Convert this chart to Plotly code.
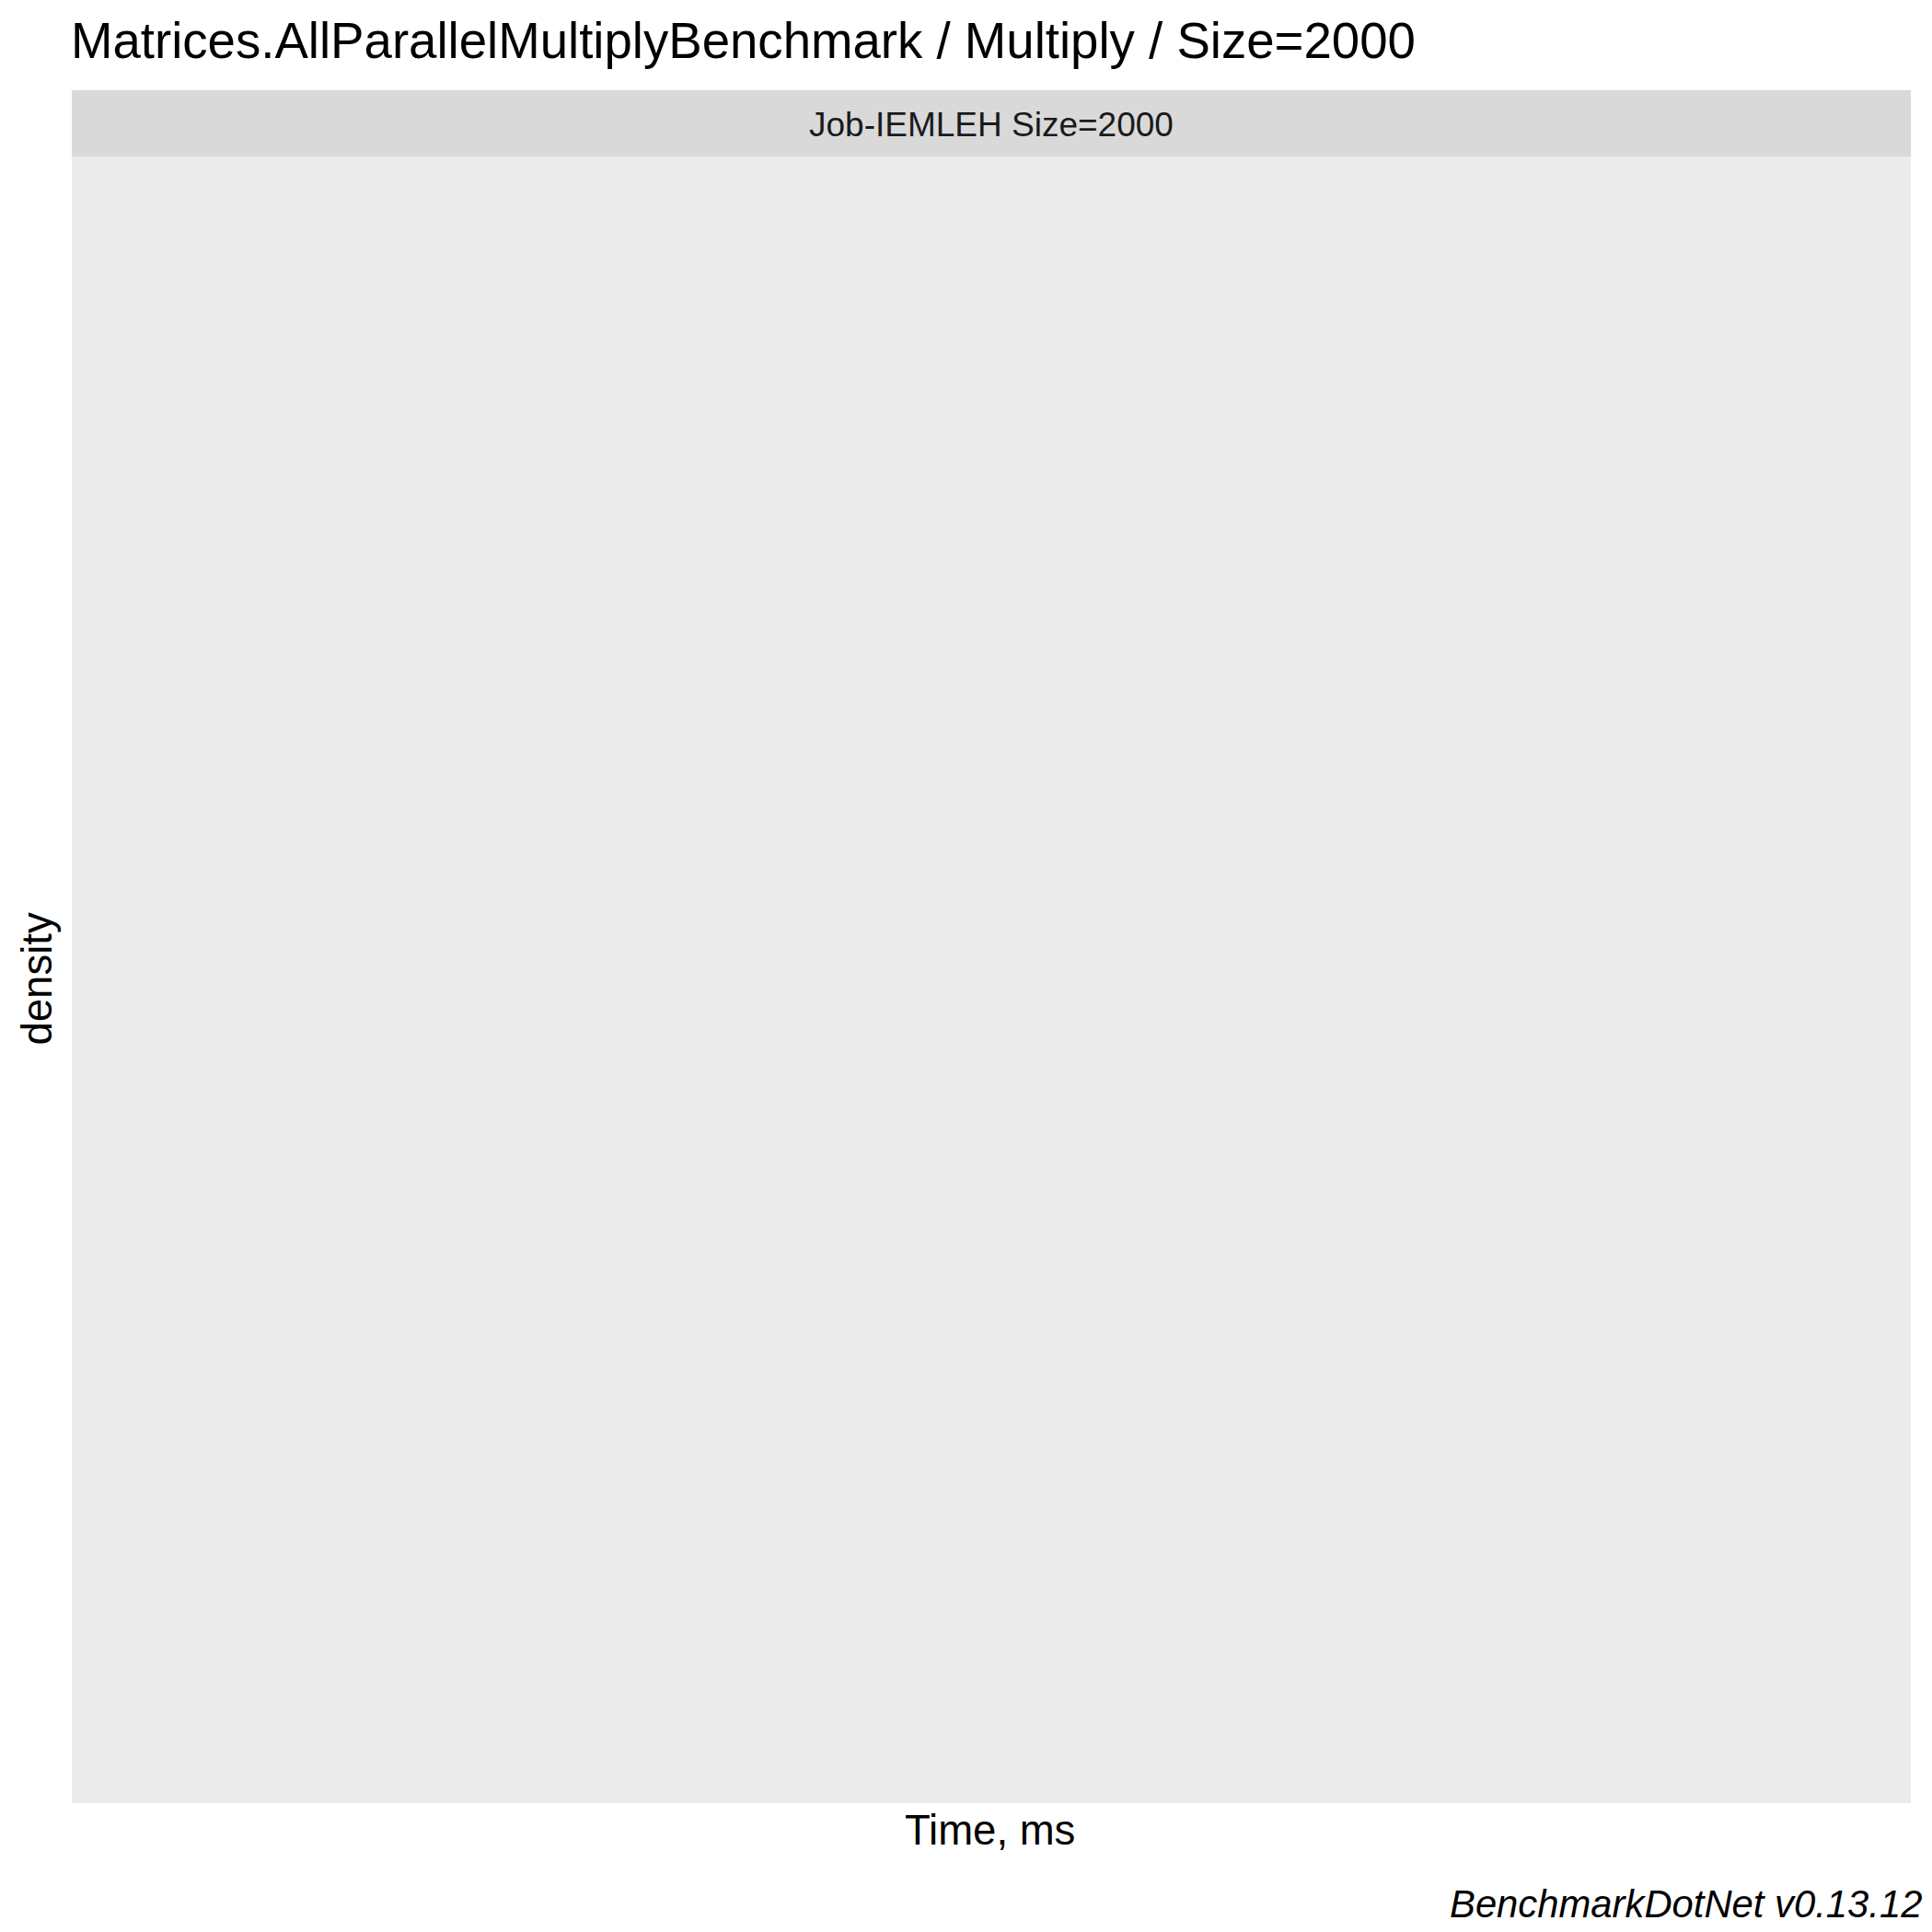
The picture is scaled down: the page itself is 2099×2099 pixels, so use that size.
import plotly.graph_objects as go

# Data: the reference panel is empty (no measurements plotted)
time_ms = []
density = []

title_text = "Matrices.AllParallelMultiplyBenchmark / Multiply / Size=2000"
strip_label = "Job-IEMLEH Size=2000"
x_title = "Time, ms"
y_title = "density"
caption = "BenchmarkDotNet v0.13.12"

W = H = 2099
L, R, T, B = 78, 2099 - 2076, 98, 2099 - 1959
plot_h = H - T - B
strip_px = 72
panel_top = 1 - strip_px / plot_h

def py(p):
    return (H - B - p) / plot_h

def px(p):
    return (p - L) / (W - L - R)

FONT = "Liberation Sans, Arial, sans-serif"

fig = go.Figure()
fig.add_trace(go.Scatter(x=time_ms, y=density, mode="lines",
                         line=dict(color="black"), showlegend=False, hoverinfo="skip"))

fig.update_layout(
    width=W, height=H,
    margin=dict(l=L, r=R, t=T, b=B, pad=0),
    paper_bgcolor="white",
    plot_bgcolor="#EBEBEB",
    showlegend=False,
    font=dict(family=FONT, color="black"),
    xaxis=dict(visible=True, showticklabels=False, showgrid=False, zeroline=False,
               ticks="", showline=False, range=[0, 1], fixedrange=True),
    yaxis=dict(visible=True, showticklabels=False, showgrid=False, zeroline=False,
               ticks="", showline=False, range=[0, 1], domain=[0, panel_top], fixedrange=True),
)

fig.add_shape(type="rect", xref="paper", yref="paper", x0=0, x1=1, y0=panel_top, y1=1,
              fillcolor="#D9D9D9", line=dict(width=0), layer="below")

ann = [
    dict(text=title_text, x=px(75), y=py(44.5), xanchor="left", yanchor="middle",
         font=dict(size=54.6, color="black")),
    dict(text=strip_label, x=0.5, y=py(135.5), xanchor="center", yanchor="middle",
         font=dict(size=37, color="#1A1A1A")),
    dict(text=x_title, x=px(1075), y=py(1989), xanchor="center", yanchor="middle",
         font=dict(size=45.5, color="black")),
    dict(text=y_title, x=px(40), y=py(1063.5), xanchor="center", yanchor="middle",
         textangle=-90, font=dict(size=45.5, color="black")),
    dict(text="<i>" + caption + "</i>", x=px(2090), y=py(2068), xanchor="right", yanchor="middle",
         font=dict(size=41.8, color="black")),
]
for a in ann:
    fig.add_annotation(xref="paper", yref="paper", showarrow=False, **a)

fig.write_html("out.html", config={"displayModeBar": False})
